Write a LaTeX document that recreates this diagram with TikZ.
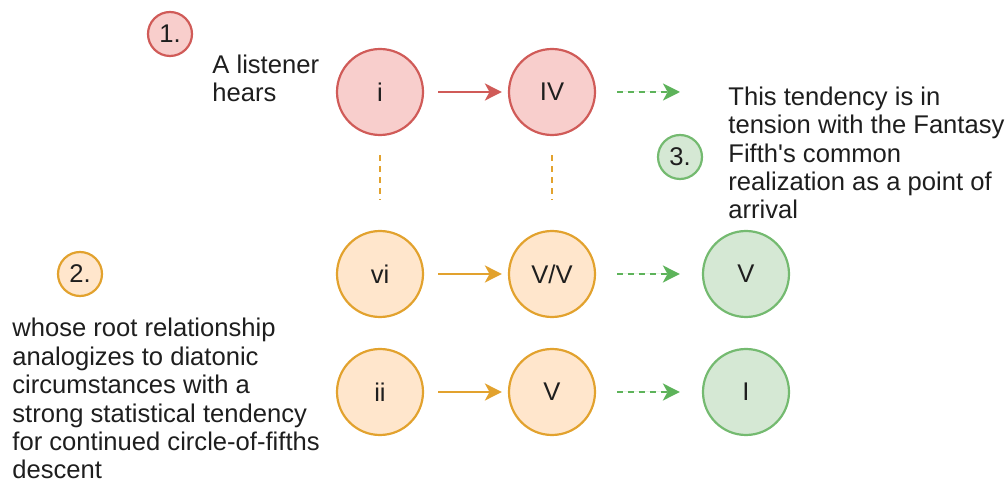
\documentclass[tikz,border=0pt]{standalone}
\usepackage{fontspec}
\setmainfont{Liberation Sans}
\usetikzlibrary{arrows.meta}

\definecolor{redfill}{HTML}{F8CECC}
\definecolor{redline}{HTML}{D05B58}
\definecolor{orangefill}{HTML}{FFE6CC}
\definecolor{orangeline}{HTML}{E2A22E}
\definecolor{greenfill}{HTML}{D5E8D4}
\definecolor{greenline}{HTML}{74BA70}
\definecolor{greenarrow}{HTML}{5DB35A}
\definecolor{ink}{HTML}{1E1E1E}

\begin{document}
\begin{tikzpicture}[x=0.5pt,y=-0.5pt,
  every node/.style={text=ink,font=\fontsize{12.8}{14.2}\selectfont},
  chord/.style={circle,line width=1.1pt,minimum size=43pt,inner sep=0pt},
  badge/.style={circle,line width=1.1pt,minimum size=22pt,inner sep=0pt},
  redc/.style={draw=redline,fill=redfill},
  orangec/.style={draw=orangeline,fill=orangefill},
  greenc/.style={draw=greenline,fill=greenfill},
  tip/.style={-{Stealth[length=8.5pt,width=8.5pt,inset=2.3pt]}},
  solidarrow/.style={tip,line width=1.1pt},
  fadearrow/.style={tip,line width=1.1pt,draw=greenarrow,dash pattern=on 3pt off 2.5pt},
  link/.style={draw=orangeline,line width=1.1pt,dash pattern=on 3pt off 2.5pt},
  note/.style={align=left,anchor=base west,inner sep=0pt}
]
\useasboundingbox (0,0) rectangle (1008,486);

% chord circles
\node[chord,redc] (i) at (380,92) {i};
\node[chord,redc] (IV) at (552,92) {IV};
\node[chord,orangec] (vi) at (380,274) {vi};
\node[chord,orangec] (VV) at (552,274) {V/V};
\node[chord,greenc] (Vg) at (746,274) {V};
\node[chord,orangec] (ii) at (380,392) {ii};
\node[chord,orangec] (V) at (552,392) {V};
\node[chord,greenc] (I) at (746,392) {I};
\coordinate (open) at (680,92);

% numbered badges
\node[badge,redc] (b1) at (170,34) {1.};
\node[badge,orangec] (b2) at (80,274) {2.};
\node[badge,greenc] (b3) at (680,157) {3.};

% notes (anchored on the baseline of their last line)
\node[note] (n1) at (212,102) {A listener\\hears};
\node[note] (n2) at (728,219) {This tendency is in\\tension with the Fantasy\\Fifth\textquotesingle s common\\realization as a point of\\arrival};
\node[note] (n3) at (12,479) {whose root relationship\\analogizes to diatonic\\circumstances with a\\strong statistical tendency\\for continued circle-of-fifths\\descent};

% progressions
\draw[solidarrow,draw=redline,fill=redline,shorten <=7pt,shorten >=3pt] (i) -- (IV);
\draw[solidarrow,draw=orangeline,fill=orangeline,shorten <=7pt,shorten >=3pt] (vi) -- (VV);
\draw[solidarrow,draw=orangeline,fill=orangeline,shorten <=7pt,shorten >=3pt] (ii) -- (V);

% continuations
\draw[fadearrow,fill=greenarrow,shorten <=10.5pt] (IV) -- (open);
\draw[fadearrow,fill=greenarrow,shorten <=10.5pt,shorten >=11pt] (VV) -- (Vg);
\draw[fadearrow,fill=greenarrow,shorten <=10.5pt,shorten >=11pt] (V) -- (I);

% reinterpretation links
\draw[link,shorten <=9.5pt,shorten >=15pt] (i) -- (vi);
\draw[link,shorten <=9.5pt,shorten >=15pt] (IV) -- (VV);
\end{tikzpicture}
\end{document}
